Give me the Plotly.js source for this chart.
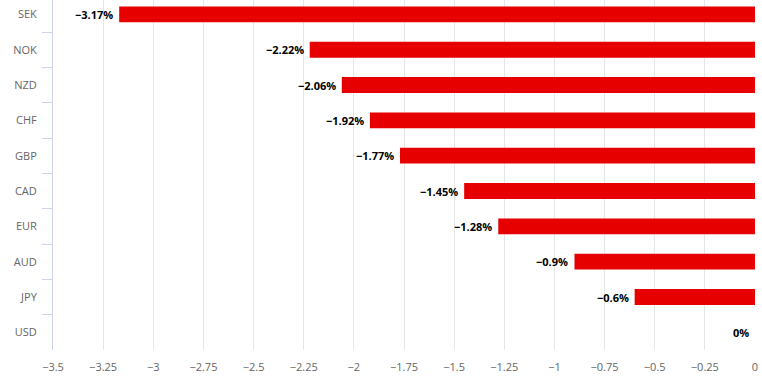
<!DOCTYPE html>
<html>
<head>
<meta charset="utf-8">
<script src="https://cdn.plot.ly/plotly-3.0.1.min.js"></script>
<style>html,body{margin:0;padding:0;background:#fff;}#chart{width:762px;height:381px;}</style>
</head>
<body>
<div id="chart"></div>
<script>
const currencies = ["SEK","NOK","NZD","CHF","GBP","CAD","EUR","AUD","JPY","USD"];
const changes = [-3.17,-2.22,-2.06,-1.92,-1.77,-1.45,-1.28,-0.9,-0.6,0];
const labels = changes.map(v => (v < 0 ? "\u2212" + Math.abs(v) : String(v)) + "%");
const xTicks = [-3.5,-3.25,-3,-2.75,-2.5,-2.25,-2,-1.75,-1.5,-1.25,-1,-0.75,-0.5,-0.25,0];

const trace = {
  type: "bar",
  orientation: "h",
  x: changes,
  y: currencies,
  width: 0.45,
  marker: {color: "#e60000"},
  hoverinfo: "none"
};

const annotations = changes.map((v, i) => ({
  x: v, y: currencies[i], xref: "x", yref: "y",
  text: labels[i], showarrow: false, xanchor: "right", xshift: -4,
  font: {family: "Open Sans", size: 11, color: "#000", weight: "bold"}
}));

const layout = {
  width: 762, height: 381,
  margin: {l: 53, r: 7, t: 0, b: 31},
  paper_bgcolor: "#fff", plot_bgcolor: "#fff",
  showlegend: false,
  font: {family: "Open Sans", size: 11, color: "#666666"},
  xaxis: {
    range: [-3.5, 0],
    tickvals: xTicks,
    showgrid: true, gridcolor: "#e6e6e6", gridwidth: 1,
    zeroline: false, showline: false, ticks: "",
    ticklabelstandoff: 9,
    tickfont: {family: "Open Sans", size: 11, color: "#666666"},
    fixedrange: true
  },
  yaxis: {
    type: "category",
    categoryorder: "array", categoryarray: currencies,
    range: [9.5, -0.406],
    showgrid: false, zeroline: false,
    showline: true, linecolor: "#ccd6eb", linewidth: 1,
    ticks: "outside", tickson: "boundaries", ticklen: 10, tickcolor: "#ccd6eb",
    ticklabelstandoff: 13,
    tickfont: {family: "Open Sans", size: 11, color: "#666666"},
    fixedrange: true
  },
  annotations: annotations
};

Plotly.newPlot("chart", [trace], layout, {displayModeBar: false, staticPlot: true});
</script>
</body>
</html>
